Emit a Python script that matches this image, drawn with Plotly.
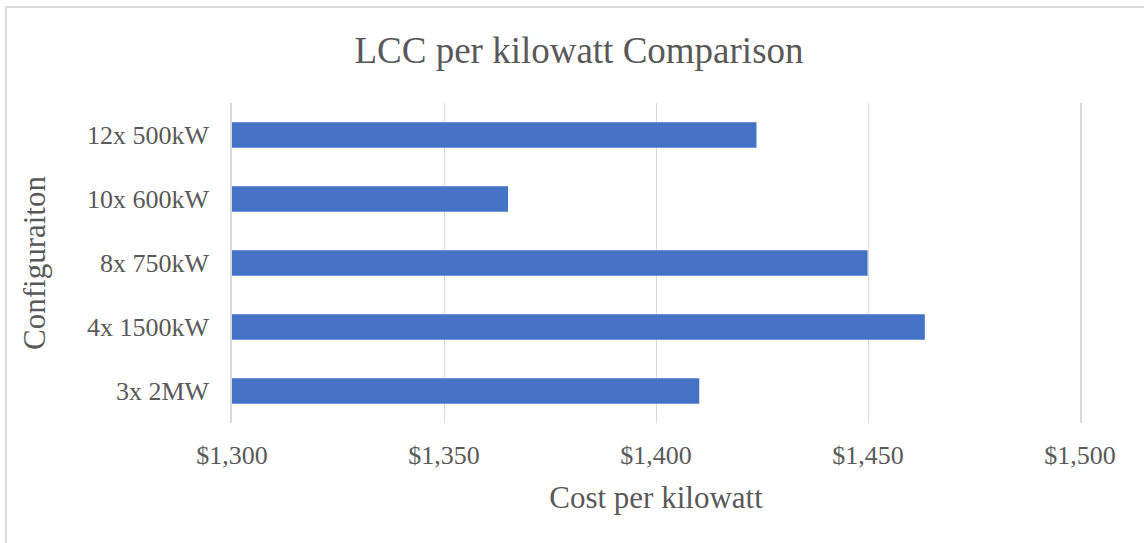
import plotly.graph_objects as go

categories = ["3x 2MW", "4x 1500kW", "8x 750kW", "10x 600kW", "12x 500kW"]
cost_per_kw = [1410.2, 1463.4, 1449.9, 1365.1, 1423.7]
x_ticks = [1300, 1350, 1400, 1450, 1500]
x_tick_labels = ["$1,300", "$1,350", "$1,400", "$1,450", "$1,500"]

FONT = "Liberation Serif, Times New Roman, serif"
TXT = "#595959"
GRID = "#d9d9d9"

fig = go.Figure(go.Bar(
    x=cost_per_kw,
    y=categories,
    orientation="h",
    marker=dict(color="#4472C4", line=dict(width=0)),
    hoverinfo="x+y",
))

fig.update_layout(
    width=1144, height=543,
    margin=dict(l=232, r=64, t=103, b=120),
    paper_bgcolor="white", plot_bgcolor="white",
    bargap=0.6,
    showlegend=False,
    title=dict(text="LCC per kilowatt Comparison", x=579 / 1144, xanchor="center",
               y=1 - 50 / 543, yanchor="middle",
               font=dict(family=FONT, size=37, color=TXT)),
    font=dict(family=FONT, color=TXT),
)

fig.update_xaxes(
    range=[1300, 1500],
    tickvals=x_ticks, ticktext=x_tick_labels,
    showgrid=True, gridcolor=GRID, gridwidth=1.3,
    zeroline=False, showline=False,
    ticks="", ticklabelstandoff=14,
    tickfont=dict(family=FONT, size=26, color=TXT),
    title=dict(text="Cost per kilowatt", standoff=17,
               font=dict(family=FONT, size=31, color=TXT)),
)

fig.update_yaxes(
    categoryorder="array", categoryarray=categories,
    showgrid=False, zeroline=False,
    showline=True, linecolor=GRID, linewidth=1.5, mirror=True,
    ticks="", ticklabelstandoff=16,
    tickfont=dict(family=FONT, size=26, color=TXT),
    title=dict(text="Configuraiton", standoff=32,
               font=dict(family=FONT, size=31, color=TXT)),
)

# outer chart-area border (left and top edges visible)
fig.add_shape(type="rect", xref="paper", yref="paper",
              x0=(6 - 232) / 848, x1=1.3, y0=-0.6, y1=(423 - 7) / 320,
              line=dict(color=GRID, width=2), fillcolor="rgba(0,0,0,0)", layer="below")

fig.write_html("out.html", config={"displayModeBar": False},
               post_script="document.body.style.margin='0';")
